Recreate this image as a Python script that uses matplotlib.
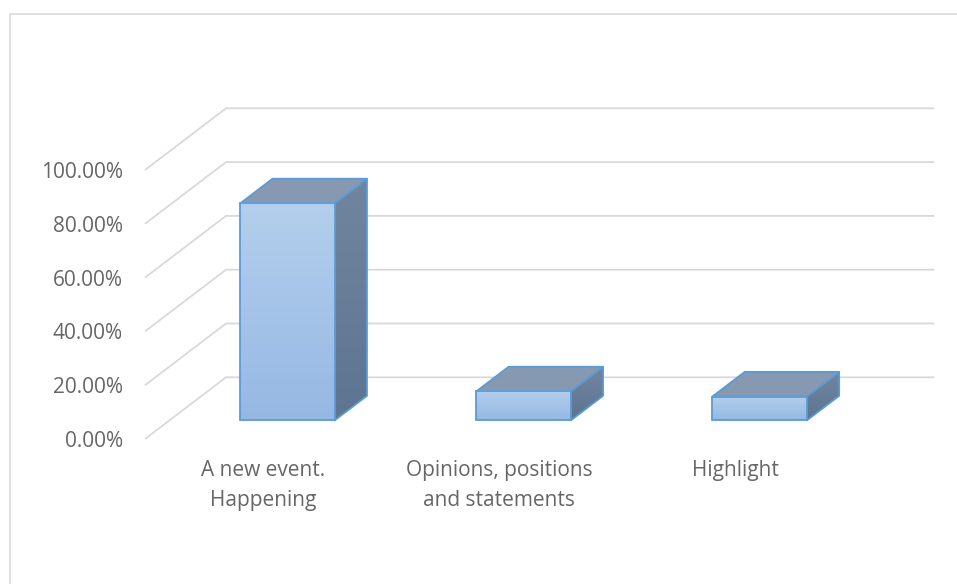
"""3-D style column chart (Excel look) of news-item type shares."""
import matplotlib
matplotlib.use("Agg")
import matplotlib.pyplot as plt
import numpy as np
from matplotlib.colors import LinearSegmentedColormap
from matplotlib.patches import Polygon, Rectangle

categories = ["A new event.\nHappening", "Opinions, positions\nand statements", "Highlight"]
shares = [0.807, 0.108, 0.089]
yticks = [0.0, 0.2, 0.4, 0.6, 0.8, 1.0]
ytick_labels = ["0.00%", "20.00%", "40.00%", "60.00%", "80.00%", "100.00%"]

W, H = 957, 584
# depth vector of the floor, in (category, value) units
DX, DY = 81 / 236.1, 61.7 / 269
BAR_W = 0.4
D0, D1 = 0.3, 0.7          # bar front / back as fraction of floor depth

FRONT = ["#b4cfed", "#95b8e3"]
SIDE = ["#71859f", "#5d7592"]
TOP = "#8699b1"
EDGE = "#5b9bd5"
GRID = "#d9d9d9"
TXT = "#666666"

plt.rcParams["font.family"] = ["Open Sans", "DejaVu Sans"]
fig = plt.figure(figsize=(W / 100, H / 100), dpi=100)
fig.patches.append(Rectangle((10 / W, -0.1), 1.2, (H - 14) / H + 0.1,
                             transform=fig.transFigure, fill=False,
                             ec=GRID, lw=1.1))
ax = fig.add_axes([145 / W, (H - 439) / H, 708.3 / W, 269 / H])
for s in ax.spines.values():
    s.set_visible(False)
ax.set_yticks(yticks, ytick_labels)
ax.set_xticks(np.arange(len(categories)) + 0.5, categories)
ax.tick_params(axis="y", length=0, pad=16, labelsize=15, labelcolor=TXT)
ax.tick_params(axis="x", length=0, pad=15, labelsize=15, labelcolor=TXT)
for lab in ax.get_xticklabels():
    lab.set_linespacing(1.6)

# walls: diagonal on the side wall, horizontal along the back wall
for v in yticks:
    ax.plot([0, DX, len(categories) + DX], [v, v + DY, v + DY],
            color=GRID, lw=1.3, clip_on=False, zorder=1,
            solid_capstyle="butt")

grad = np.linspace(0, 1, 256).reshape(-1, 1)
cmap_s = LinearSegmentedColormap.from_list("s", SIDE[::-1])
cmap_f = LinearSegmentedColormap.from_list("f", FRONT[::-1])
for i, val in enumerate(shares):
    x0 = i + (1 - BAR_W) / 2
    x1 = x0 + BAR_W
    fx0, fx1 = x0 + D0 * DX, x1 + D0 * DX
    fy0, fy1 = D0 * DY, val + D0 * DY
    bx, by = (D1 - D0) * DX, (D1 - D0) * DY

    # side face (gradient clipped to parallelogram)
    side = Polygon([(fx1, fy0), (fx1 + bx, fy0 + by), (fx1 + bx, fy1 + by),
                    (fx1, fy1)], closed=True, fc="none", ec=EDGE, lw=1.3,
                   zorder=3, clip_on=False)
    ax.add_patch(side)
    im = ax.imshow(grad, extent=(fx1, fx1 + bx, fy0, fy1 + by), origin="lower",
                   cmap=cmap_s, aspect="auto", zorder=2)
    im.set_clip_path(side)

    # top face
    ax.add_patch(Polygon([(fx0, fy1), (fx1, fy1), (fx1 + bx, fy1 + by),
                          (fx0 + bx, fy1 + by)], closed=True, fc=TOP, ec=EDGE,
                         lw=1.3, zorder=3, clip_on=False, joinstyle="round"))

    # front face
    ax.imshow(grad, extent=(fx0, fx1, fy0, fy1), origin="lower", cmap=cmap_f,
              aspect="auto", zorder=4)
    ax.add_patch(Rectangle((fx0, fy0), fx1 - fx0, fy1 - fy0, fill=False,
                           ec=EDGE, lw=1.3, zorder=5, clip_on=False))

ax.set_xlim(0, len(categories))
ax.set_ylim(0, 1)
fig.savefig("out.png", dpi=100)
